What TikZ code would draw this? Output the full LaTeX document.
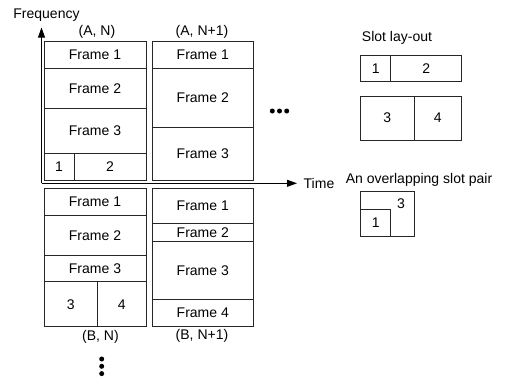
\documentclass[tikz,border=0pt]{standalone}
\usepackage{fontspec}
\setmainfont{Liberation Sans}
\usepackage{tikz}
\usetikzlibrary{arrows.meta}
\tikzstyle{cell}=[rectangle, draw=black!85, inner sep=0pt, line width=0.8pt]
\tikzstyle{dot}=[circle, fill=black, inner sep=0pt, minimum size=5pt]
\tikzstyle{axis}=[line width=0.8pt, -{Triangle[length=10pt, width=7pt]}]

\begin{document}
\begin{tikzpicture}[x=1pt, y=-1pt, font=\fontsize{14}{16}\selectfont]
                \useasboundingbox (0, 0) rectangle (521, 378);
                % axes
                \coordinate (orig) at (41.5, 183.3);
                \coordinate (ftip) at (41.5, 27.5);
                \coordinate (ttip) at (297, 183.3);
                \node (freq) at (46.5, 15) {Frequency};
                \node (time) at (319, 183.5) {Time};
                \draw[axis] (orig)--(ftip);
                \draw[axis] (orig)--(ttip);
                % (A, N)
                \node (lan) at (97, 32) {(A, N)};
                \node[cell, minimum width=102, minimum height=26.6] (an1) at (95, 55) {Frame 1};
                \node[cell, minimum width=102, minimum height=40] (an2) at (95, 88.3) {Frame 2};
                \node[cell, minimum width=102, minimum height=45] (an3) at (95, 130.8) {Frame 3};
                \node[cell, minimum width=30, minimum height=26.7] (ans1) at (59, 166.7) {1};
                \node[cell, minimum width=72, minimum height=26.7] (ans2) at (110, 166.7) {2};
                % (A, N+1)
                \node (lap) at (202, 32) {(A, N+1)};
                \node[cell, minimum width=101, minimum height=26.6] (ap1) at (202.8, 55) {Frame 1};
                \node[cell, minimum width=101, minimum height=59] (ap2) at (202.8, 97.8) {Frame 2};
                \node[cell, minimum width=101, minimum height=52.7] (ap3) at (202.8, 153.7) {Frame 3};
                % (B, N)
                \node[cell, minimum width=102, minimum height=26.7] (bn1) at (95, 201.7) {Frame 1};
                \node[cell, minimum width=102, minimum height=40.7] (bn2) at (95, 235.3) {Frame 2};
                \node[cell, minimum width=102, minimum height=26] (bn3) at (95, 268.7) {Frame 3};
                \node[cell, minimum width=53.7, minimum height=45] (bns3) at (70.85, 304.2) {3};
                \node[cell, minimum width=48.3, minimum height=45] (bns4) at (121.85, 304.2) {4};
                \node (lbn) at (100.5, 337) {(B, N)};
                % (B, N+1)
                \node[cell, minimum width=101, minimum height=35] (bp1) at (202.8, 205.8) {Frame 1};
                \node[cell, minimum width=101, minimum height=17.7] (bp2) at (202.8, 232.2) {Frame 2};
                \node[cell, minimum width=101, minimum height=58.3] (bp3) at (202.8, 270.2) {Frame 3};
                \node[cell, minimum width=101, minimum height=27.4] (bp4) at (202.8, 313) {Frame 4};
                \node (lbp) at (202, 336) {(B, N+1)};
                % continuation dots
                \foreach \x [count=\i] in {272.3, 279.5, 286.7}
                    \node[dot] (hd\i) at (\x, 111) {};
                \foreach \y [count=\i] in {359, 366.3, 373.6}
                    \node[dot] (vd\i) at (101.7, \y) {};
                % slot lay-out
                \node (lay) at (397, 38.3) {Slot lay-out};
                \node[cell, minimum width=30, minimum height=26.7] (s1) at (375.7, 68.3) {1};
                \node[cell, minimum width=71, minimum height=26.7] (s2) at (426.2, 68.3) {2};
                \node[cell, minimum width=53.3, minimum height=44] (s3) at (387.3, 118) {3};
                \node[cell, minimum width=47.7, minimum height=44] (s4) at (437.8, 118) {4};
                % overlapping pair
                \node[anchor=west, inner sep=0pt] (ovl) at (345.7, 180) {An overlapping slot pair};
                \node[cell, minimum width=53.3, minimum height=45] (o3) at (387.3, 214.2) {};
                \node (o3txt) at (401, 203.3) {3};
                \node[cell, minimum width=30, minimum height=27.4] (o1) at (375.7, 223) {1};
            \end{tikzpicture}
\end{document}
